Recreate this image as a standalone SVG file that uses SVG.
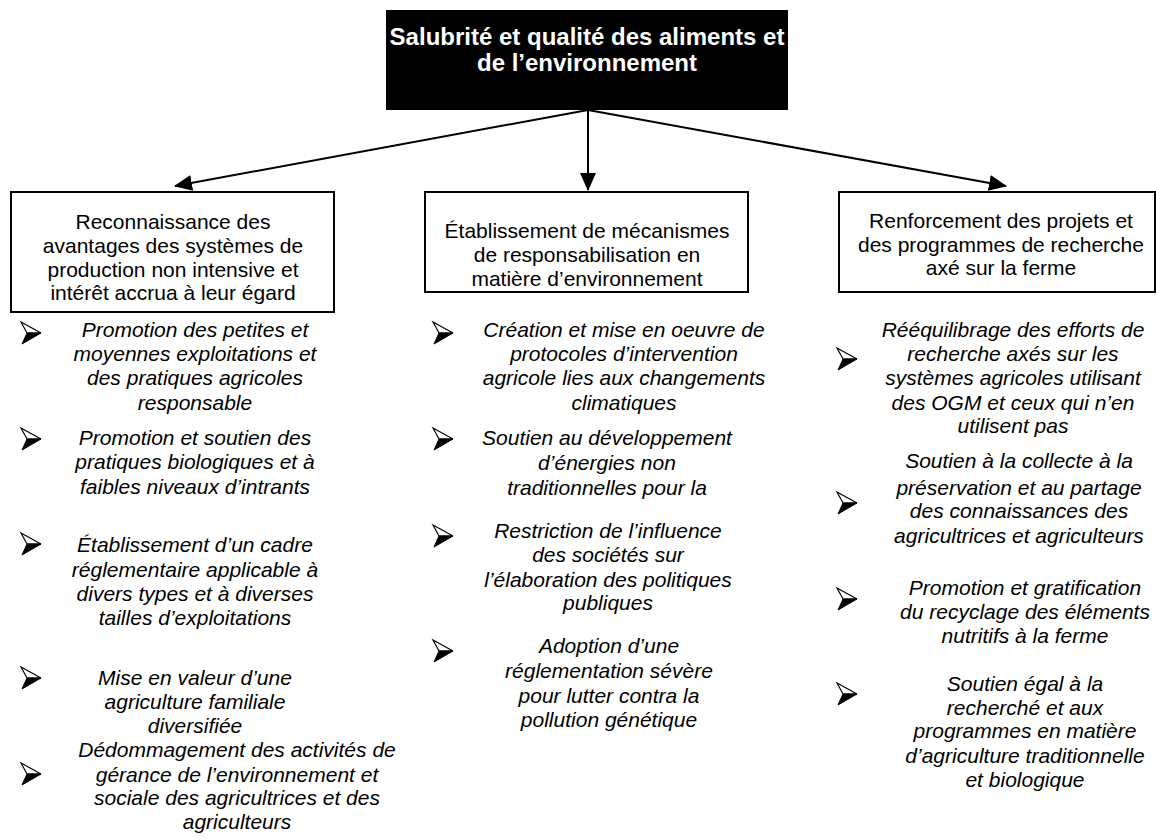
<svg xmlns="http://www.w3.org/2000/svg" width="1156" height="840" viewBox="0 0 1156 840">
  <style>
    text { font-family: "Liberation Sans", Arial, sans-serif; fill: #000; text-anchor: middle; }
    .title { font-size: 24px; font-weight: bold; fill: #fff; }
    .head { font-size: 21px; }
    .item { font-size: 21px; font-style: italic; }
    .box { fill: #fff; stroke: #000; stroke-width: 2; }
    .link { stroke: #000; stroke-width: 2; fill: none; marker-end: url(#arrow); }
  </style>
  <defs>
    <marker id="arrow" markerUnits="userSpaceOnUse" markerWidth="18" markerHeight="16" viewBox="0 0 18 16" refX="17" refY="8" orient="auto">
      <path d="M0,0 L18,8 L0,16 Z" fill="#000"/>
    </marker>
    <!-- arrowhead bullet: outlined upper wing, solid lower wing -->
    <g id="bullet">
      <path d="M0,0 L20,11 L6,11 Z" fill="#fff" stroke="#000" stroke-width="1.2" stroke-linejoin="miter"/>
      <path d="M6,11 L20,11 L1,22 Z" fill="#000" stroke="#000" stroke-width="1"/>
    </g>
  </defs>

  <rect width="1156" height="840" fill="#fff"/>

  <!-- connectors -->
  <g id="connectors">
    <line class="link" x1="588" y1="110" x2="175" y2="186"/>
    <line class="link" x1="588" y1="110" x2="588" y2="190"/>
    <line class="link" x1="588" y1="110" x2="1006" y2="186"/>
  </g>

  <!-- root -->
  <g id="root">
    <rect x="386" y="10" width="402" height="100" fill="#000"/>
    <text class="title" x="587" y="45">Salubrité et qualité des aliments et</text>
    <text class="title" x="587" y="71">de l’environnement</text>
  </g>

  <!-- left branch -->
  <g id="node-left">
    <rect class="box" x="11" y="192" width="323" height="120"/>
    <text class="head" x="173" y="229">Reconnaissance des</text>
    <text class="head" x="173" y="253">avantages des systèmes de</text>
    <text class="head" x="173" y="277">production non intensive et</text>
    <text class="head" x="173" y="300">intérêt accrua à leur égard</text>
  </g>
  <g id="items-left">
    <use href="#bullet" x="21" y="322"/>
    <text class="item" x="195" y="337">Promotion des petites et</text>
    <text class="item" x="195" y="361">moyennes exploitations et</text>
    <text class="item" x="195" y="385">des pratiques agricoles</text>
    <text class="item" x="195" y="410">responsable</text>

    <use href="#bullet" x="21" y="428"/>
    <text class="item" x="195" y="445">Promotion et soutien des</text>
    <text class="item" x="195" y="469">pratiques biologiques et à</text>
    <text class="item" x="195" y="494">faibles niveaux d’intrants</text>

    <use href="#bullet" x="21" y="533"/>
    <text class="item" x="195" y="552">Établissement d’un cadre</text>
    <text class="item" x="195" y="577">réglementaire applicable à</text>
    <text class="item" x="195" y="601">divers types et à diverses</text>
    <text class="item" x="195" y="625">tailles d’exploitations</text>

    <use href="#bullet" x="21" y="667"/>
    <text class="item" x="195" y="685">Mise en valeur d’une</text>
    <text class="item" x="195" y="709">agriculture familiale</text>
    <text class="item" x="195" y="733">diversifiée</text>

    <use href="#bullet" x="21" y="763"/>
    <text class="item" x="237" y="757">Dédommagement des activités de</text>
    <text class="item" x="237" y="782">gérance de l’environnement et</text>
    <text class="item" x="237" y="805">sociale des agricultrices et des</text>
    <text class="item" x="237" y="829">agriculteurs</text>
  </g>

  <!-- centre branch -->
  <g id="node-centre">
    <rect class="box" x="425" y="192" width="323" height="100"/>
    <text class="head" x="587" y="238">Établissement de mécanismes</text>
    <text class="head" x="587" y="262">de responsabilisation en</text>
    <text class="head" x="587" y="286">matière d’environnement</text>
  </g>
  <g id="items-centre">
    <use href="#bullet" x="433" y="322"/>
    <text class="item" x="624" y="337">Création et mise en oeuvre de</text>
    <text class="item" x="624" y="361">protocoles d’intervention</text>
    <text class="item" x="624" y="385">agricole lies aux changements</text>
    <text class="item" x="624" y="410">climatiques</text>

    <use href="#bullet" x="433" y="428"/>
    <text class="item" x="607" y="445">Soutien au développement</text>
    <text class="item" x="607" y="470">d’énergies non</text>
    <text class="item" x="607" y="495">traditionnelles pour la</text>

    <use href="#bullet" x="433" y="525"/>
    <text class="item" x="608" y="538">Restriction de l’influence</text>
    <text class="item" x="608" y="562">des sociétés sur</text>
    <text class="item" x="608" y="587">l’élaboration des politiques</text>
    <text class="item" x="608" y="610">publiques</text>

    <use href="#bullet" x="433" y="640"/>
    <text class="item" x="609" y="653">Adoption d’une</text>
    <text class="item" x="609" y="678">réglementation sévère</text>
    <text class="item" x="609" y="703">pour lutter contra la</text>
    <text class="item" x="609" y="727">pollution génétique</text>
  </g>

  <!-- right branch -->
  <g id="node-right">
    <rect class="box" x="839" y="192" width="316" height="100"/>
    <text class="head" x="1001" y="228">Renforcement des projets et</text>
    <text class="head" x="1001" y="252">des programmes de recherche</text>
    <text class="head" x="1001" y="275">axé sur la ferme</text>
  </g>
  <g id="items-right">
    <use href="#bullet" x="837" y="348"/>
    <text class="item" x="1013" y="337">Rééquilibrage des efforts de</text>
    <text class="item" x="1013" y="361">recherche axés sur les</text>
    <text class="item" x="1013" y="385">systèmes agricoles utilisant</text>
    <text class="item" x="1013" y="410">des OGM et ceux qui n’en</text>
    <text class="item" x="1013" y="433">utilisent pas</text>

    <use href="#bullet" x="837" y="492"/>
    <text class="item" x="1019" y="468">Soutien à la collecte à la</text>
    <text class="item" x="1019" y="495">préservation et au partage</text>
    <text class="item" x="1019" y="518">des connaissances des</text>
    <text class="item" x="1019" y="543">agricultrices et agriculteurs</text>

    <use href="#bullet" x="837" y="588"/>
    <text class="item" x="1025" y="595">Promotion et gratification</text>
    <text class="item" x="1025" y="619">du recyclage des éléments</text>
    <text class="item" x="1025" y="643">nutritifs à la ferme</text>

    <use href="#bullet" x="837" y="683"/>
    <text class="item" x="1025" y="691">Soutien égal à la</text>
    <text class="item" x="1025" y="715">recherché et aux</text>
    <text class="item" x="1025" y="738">programmes en matière</text>
    <text class="item" x="1025" y="763">d’agriculture traditionnelle</text>
    <text class="item" x="1025" y="787">et biologique</text>
  </g>
</svg>
